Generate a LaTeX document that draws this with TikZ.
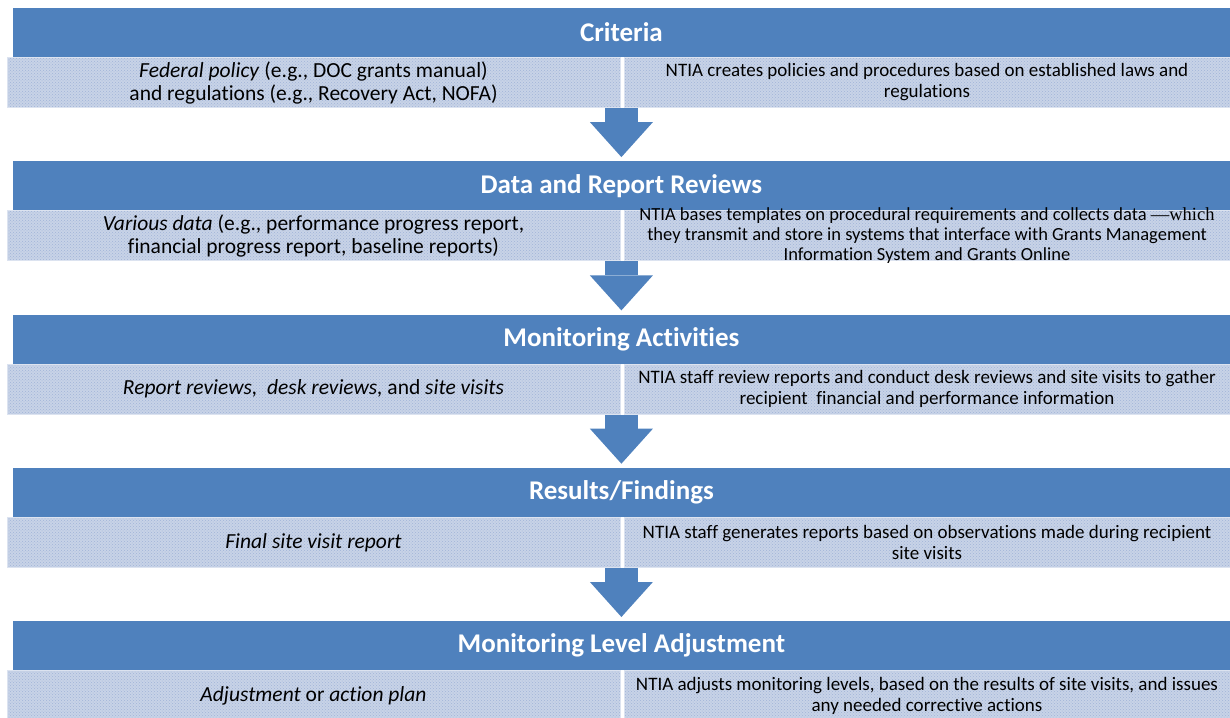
\documentclass[tikz,border=0pt]{standalone}
\usepackage{fontspec}
\setmainfont{Carlito}[Ligatures=NoCommon]
\newfontfamily\dashfont{Liberation Serif}
\usetikzlibrary{patterns,arrows.meta}

\definecolor{headblue}{RGB}{79,129,189}
\definecolor{rowfill}{RGB}{200,211,231}
\definecolor{rowdots}{RGB}{160,180,216}
\definecolor{rowedge}{RGB}{220,227,240}

\tikzset{
  stagehead/.style={rectangle, fill=headblue, text=white, minimum width=1217pt, minimum height=49pt, inner sep=0pt, font=\fontsize{27}{31}\selectfont\bfseries},
  stagecell/.style={rectangle, preaction={fill=rowfill}, pattern=crosshatch dots, pattern color=rowdots, draw=rowedge, line width=1pt, minimum height=50pt, inner sep=0pt, align=center},
  leftcell/.style={stagecell, minimum width=613pt, font=\fontsize{21.5}{23}\selectfont},
  rightcell/.style={stagecell, minimum width=606pt, font=\fontsize{19}{21}\selectfont},
  flowarrow/.style={draw=headblue, line width=33pt, -{Triangle[width=63pt, length=35pt, line width=0pt 0 0]}, shorten >=4pt},
}

\begin{document}
\begin{tikzpicture}[x=1pt, y=-1pt]
    \useasboundingbox (0,0) rectangle (1230,717);

    % Criteria
    \node[stagehead] (h1) at (621.4, 32.5) {Criteria};
    \node[leftcell] (l1) at (313.5, 82.5) {\textit{Federal policy} (e.g., DOC grants manual)\\and regulations (e.g., Recovery Act, NOFA)};
    \node[rightcell] (r1) at (927, 82.5) {NTIA creates policies and procedures based on established laws and\\regulations};

    % Data and report reviews
    \node[stagehead] (h2) at (621.4, 185.8) {Data and Report Reviews};
    \node[leftcell] (l2) at (313.5, 235.8) {\textit{Various data} (e.g., performance progress report,\\financial progress report, baseline reports)};
    \node[rightcell, inner ysep=-5pt, font=\fontsize{18.5}{20}\selectfont] (r2) at (927, 235.8) {NTIA bases templates on procedural requirements and collects data {\dashfont —which}\\they transmit and store in systems that interface with Grants Management\\Information System and Grants Online};

    % Monitoring activities
    \node[stagehead] (h3) at (621.4, 339.1) {Monitoring Activities};
    \node[leftcell] (l3) at (313.5, 389.1) {\textit{Report reviews,}\ \ \textit{desk reviews,} and \textit{site visits}};
    \node[rightcell] (r3) at (927, 389.1) {NTIA staff review reports and conduct desk reviews and site visits to gather\\recipient\ \ financial and performance information};

    % Results/findings
    \node[stagehead] (h4) at (621.4, 492.4) {Results/Findings};
    \node[leftcell] (l4) at (313.5, 542.4) {\textit{Final site visit report}};
    \node[rightcell] (r4) at (927, 542.4) {NTIA staff generates reports based on observations made during recipient\\site visits};

    % Monitoring level adjustment
    \node[stagehead] (h5) at (621.4, 645.7) {Monitoring Level Adjustment};
    \node[leftcell] (l5) at (313.5, 695.7) {\textit{Adjustment} or \textit{action plan}};
    \node[rightcell] (r5) at (927, 695.7) {NTIA adjusts monitoring levels, based on the results of site visits, and issues\\any needed corrective actions};

    % Arrows between stages
    \foreach \a/\b in {1/2, 2/3, 3/4, 4/5} {
        \draw[flowarrow] (l\a.south -| h\a.center) -- (h\b.north);
    }
\end{tikzpicture}
\end{document}
